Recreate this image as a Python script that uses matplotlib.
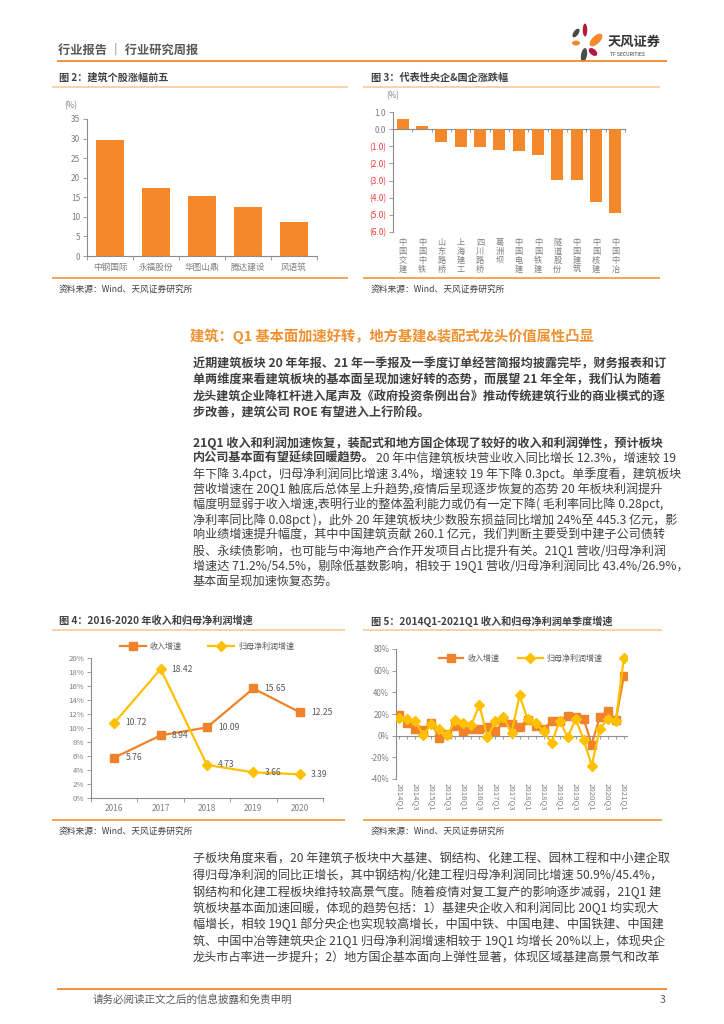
import matplotlib
matplotlib.use('Agg')
import matplotlib.pyplot as plt
from matplotlib.patches import Ellipse
import numpy as np

plt.rcParams['font.family'] = ['Noto Sans CJK SC', 'DejaVu Sans']

W, H = 724, 1024
ORANGE = '#F28A2B'
LIGHT = '#FAC591'
BAR = '#F4882A'
REV = '#F0832A'
PROFIT = '#FFC000'
AXC = '#8C8C8C'
TICK = '#7F7F7F'
BODY = '#3F3F3F'

# ---- data ----
top5_names = ['中钢国际', '永福股份', '华图山鼎', '腾达建设', '风语筑']
top5_vals = [29.7, 17.5, 15.4, 12.6, 8.7]

soe_names = ['中国交建', '中国中铁', '山东路桥', '上海建工', '四川路桥', '葛洲坝',
             '中国电建', '中国铁建', '隧道股份', '中国建筑', '中国核建', '中国中冶']
soe_vals = [0.6, 0.2, -0.74, -1.02, -1.02, -1.23, -1.29, -1.53, -2.94, -2.94, -4.23, -4.9]
soe_ticks = [1, 0, -1, -2, -3, -4, -5, -6]
soe_tick_labels = ['1.0', '0.0', '(1.0)', '(2.0)', '(3.0)', '(4.0)', '(5.0)', '(6.0)']

years = ['2016', '2017', '2018', '2019', '2020']
rev_year = [5.76, 8.94, 10.09, 15.65, 12.25]
np_year = [10.72, 18.42, 4.73, 3.66, 3.39]

quarters = [f'{y}Q{q}' for y in range(2014, 2021) for q in range(1, 5)] + ['2021Q1']
rev_q = [18.8, 11.7, 6.0, 5.0, 11.7, -2.0, 2.0, 8.6, 4.6, 6.0, 6.0, 7.7, 4.6, 12.3, 11.0,
         8.0, 14.8, 9.2, 6.0, 13.2, 13.2, 17.8, 17.0, 15.4, -8.3, 17.2, 22.5, 14.2, 54.8]
np_q = [16.3, 15.4, 13.2, 0.8, 10.8, 6.5, 0.2, 14.8, 11.7, 10.2, 28.3, -1.5, 13.2, 17.2, 2.2,
        37.2, 15.4, 11.7, 4.0, -6.8, 13.8, -1.5, 15.4, -3.7, -27.7, 6.0, 15.4, 13.2, 71.4]

fig = plt.figure(figsize=(7.24, 10.24), dpi=100)
page = fig.add_axes([0, 0, 1, 1])
page.set_xlim(0, W)
page.set_ylim(H, 0)
page.axis('off')


def txt(x, y, s, size=8.7, color=BODY, weight='normal', **kw):
    return page.text(x, y, s, fontsize=size, color=color, fontweight=weight,
                     va='center', ha=kw.pop('ha', 'left'), **kw)


def hline(x0, x1, y, color=ORANGE, lw=1.1):
    page.plot([x0, x1], [y, y], color=color, lw=lw, solid_capstyle='butt')


def box(l, t, r, b):
    ax = fig.add_axes([l / W, 1 - b / H, (r - l) / W, (b - t) / H])
    ax.set_facecolor('none')
    for s in ['top', 'right']:
        ax.spines[s].set_visible(False)
    for s in ['left', 'bottom']:
        ax.spines[s].set_color(AXC)
        ax.spines[s].set_linewidth(0.8)
    ax.tick_params(colors=AXC, labelcolor=TICK, labelsize=6.0, length=3, width=0.6, pad=2)
    return ax


def zero_axis(ax, ticks):
    lo, hi = ax.get_ylim()
    sec = ax.secondary_xaxis((0 - lo) / (hi - lo))
    sec.set_alignment('bottom')
    sec.spines['bottom'].set_color(AXC)
    sec.spines['bottom'].set_linewidth(0.8)
    sec.set_xticks(ticks)
    sec.set_xticklabels([])
    sec.tick_params(direction='out', length=2.5, width=0.6, color=AXC)
    ax.spines['bottom'].set_visible(False)
    return sec


# ---- header ----
txt(58, 50, '行业报告 ｜ 行业研究周报', size=8.8, color='#595959', weight='bold')
hline(57, 667, 61, lw=1.3)
for (cx, cy, w, h, a, c) in [(585, 30, 4.5, 13, 0, '#B3193F'), (576, 33, 5, 10, 35, '#4A4A4A'),
                             (596, 40, 16, 8, -45, ORANGE), (576, 43, 8, 5, 0, ORANGE),
                             (593, 52, 10, 6, 40, '#B3193F'), (584, 55, 6, 14, 10, '#4A4A4A')]:
    page.add_patch(Ellipse((cx, cy), w, h, angle=a, color=c, lw=0))
txt(608, 42, '天风证券', size=9.5, color='#333333', weight='bold')
txt(610, 54, 'TF SECURITIES', size=3.6, color='#333333')

# ---- chart frames ----
txt(59, 78, '图 2：建筑个股涨幅前五', size=7.3, color='#404040', weight='bold')
txt(371, 78, '图 3：代表性央企&国企涨跌幅', size=7.3, color='#404040', weight='bold')
hline(52, 348, 87, color=LIGHT)
hline(363, 660, 87, color=LIGHT)
hline(52, 348, 278)
hline(363, 660, 278)
txt(59, 289, '资料来源：Wind、天风证券研究所', size=6.3, color='#404040')
txt(371, 289, '资料来源：Wind、天风证券研究所', size=6.3, color='#404040')

txt(59, 621, '图 4：2016-2020 年收入和归母净利润增速', size=7.3, color='#404040', weight='bold')
txt(371, 621, '图 5：2014Q1-2021Q1 收入和归母净利润单季度增速', size=7.3, color='#404040', weight='bold')
hline(52, 345, 630, color=LIGHT)
hline(363, 662, 630, color=LIGHT)
hline(52, 345, 820)
hline(363, 662, 820)
txt(59, 831, '资料来源：Wind、天风证券研究所', size=6.3, color='#404040')
txt(371, 831, '资料来源：Wind、天风证券研究所', size=6.3, color='#404040')

# ---- fig 2 ----
ax2 = box(87, 119, 317, 256)
x2 = np.arange(len(top5_names))
ax2.bar(x2, top5_vals, width=0.62, color=BAR)
ax2.set_xlim(-0.5, len(top5_names) - 0.5)
ax2.set_ylim(0, 35)
ax2.set_yticks(range(0, 36, 5))
ax2.set_xticks(x2)
ax2.set_xticklabels(top5_names, fontsize=6.2)
ax2.set_xticks(np.arange(-0.5, len(top5_names), 1), minor=True)
ax2.tick_params(axis='x', which='major', length=0, pad=5)
ax2.tick_params(axis='x', which='minor', length=3, width=0.6, color=AXC)
ax2.text(-0.1, 1.1, '(%)', transform=ax2.transAxes, fontsize=5.8, color=TICK, va='center')

# ---- fig 3 ----
ax3 = box(393, 112, 625, 232)
x3 = np.arange(len(soe_names))
ax3.bar(x3, soe_vals, width=0.62, color=BAR)
ax3.set_xlim(-0.5, len(soe_names) - 0.5)
ax3.set_ylim(-6, 1)
ax3.set_yticks(soe_ticks)
ax3.set_yticklabels(soe_tick_labels)
for t, v in zip(ax3.get_yticklabels(), soe_ticks):
    t.set_color('#EE3B3B' if v < 0 else TICK)
ax3.set_xticks(x3)
ax3.set_xticklabels(['\n'.join(n) for n in soe_names], fontsize=5.9, linespacing=1.0, va='top')
ax3.tick_params(axis='x', length=0, pad=4)
zero_axis(ax3, np.arange(-0.5, len(soe_names), 1))
ax3.text(-0.03, 1.14, '(%)', transform=ax3.transAxes, fontsize=5.8, color=TICK, va='center')

# ---- fig 4 ----
ax4 = box(91, 658, 323, 798)
x4 = np.arange(len(years))
ax4.plot(x4, rev_year, color=REV, lw=1.6, marker='s', ms=5.6, label='收入增速')
ax4.plot(x4, np_year, color=PROFIT, lw=1.6, marker='D', ms=5.0, label='归母净利润增速')
for vals in [rev_year, np_year]:
    for xi, v in zip(x4, vals):
        ax4.annotate(f'{v:.2f}', (xi, v), xytext=(8, 0), textcoords='offset points',
                     fontsize=6.2, color='#595959', va='center', ha='left')
ax4.set_xlim(-0.5, len(years) - 0.5)
ax4.set_ylim(0, 20)
yt4 = list(range(0, 21, 2))
ax4.set_yticks(yt4)
ax4.set_yticklabels([f'{v}%' for v in yt4], fontsize=5.6)
ax4.set_xticks(x4)
ax4.set_xticklabels(years, fontsize=6.0)
ax4.set_xticks(np.arange(-0.5, len(years), 1), minor=True)
ax4.tick_params(axis='x', which='major', length=0, pad=4)
ax4.tick_params(axis='x', which='minor', length=3, width=0.6, color=AXC)
ax4.legend(loc='center', bbox_to_anchor=(0.5, 1.08), ncol=2, frameon=False, fontsize=5.8,
           handlelength=3.2, columnspacing=3.3, handletextpad=0.5, labelcolor='#595959')

# ---- fig 5 ----
ax5 = box(396, 649, 627, 779)
x5 = np.arange(len(quarters))
ax5.plot(x5, rev_q, color=REV, lw=1.6, marker='s', ms=5.2, label='收入增速', zorder=3)
ax5.plot(x5, np_q, color=PROFIT, lw=1.6, marker='D', ms=4.7, label='归母净利润增速', zorder=4)
ax5.set_xlim(-0.4, len(quarters) - 0.6)
ax5.set_ylim(-40, 80)
yt5 = list(range(-40, 81, 20))
ax5.set_yticks(yt5)
ax5.set_yticklabels([f'{v}%' for v in yt5], fontsize=5.7)
ax5.set_xticks(x5[::2])
ax5.set_xticklabels(quarters[::2], rotation=270, fontsize=5.6, va='top', ha='center')
ax5.tick_params(axis='x', length=0, pad=3)
zero_axis(ax5, x5)
ax5.legend(loc='center', bbox_to_anchor=(0.54, 0.93), ncol=2, frameon=False, fontsize=5.8,
           handlelength=3.0, columnspacing=2.4, handletextpad=0.5, labelcolor='#595959')

# ---- body text ----
txt(190, 336, '建筑：Q1 基本面加速好转，地方基建&装配式龙头价值属性凸显', size=10.3,
    color='#F0902F', weight='bold')

para1 = ['近期建筑板块 20 年年报、21 年一季报及一季度订单经营简报均披露完毕，财务报表和订',
         '单两维度来看建筑板块的基本面呈现加速好转的态势，而展望 21 年全年，我们认为随着',
         '龙头建筑企业降杠杆进入尾声及《政府投资条例出台》推动传统建筑行业的商业模式的逐',
         '步改善，建筑公司 ROE 有望进入上行阶段。']
for i, s in enumerate(para1):
    txt(193, 364 + 16.3 * i, s, weight='bold')

para2_bold = ['21Q1 收入和利润加速恢复，装配式和地方国企体现了较好的收入和利润弹性，预计板块',
              '内公司基本面有望延续回暖趋势。']
para2 = ['20 年中信建筑板块营业收入同比增长 12.3%，增速较 19',
         '年下降 3.4pct，归母净利润同比增速 3.4%，增速较 19 年下降 0.3pct。单季度看，建筑板块',
         '营收增速在 20Q1 触底后总体呈上升趋势,疫情后呈现逐步恢复的态势 20 年板块利润提升',
         '幅度明显弱于收入增速,表明行业的整体盈利能力或仍有一定下降( 毛利率同比降 0.28pct,',
         '净利率同比降 0.08pct )，此外 20 年建筑板块少数股东损益同比增加 24%至 445.3 亿元，影',
         '响业绩增速提升幅度，其中中国建筑贡献 260.1 亿元，我们判断主要受到中建子公司债转',
         '股、永续债影响，也可能与中海地产合作开发项目占比提升有关。21Q1 营收/归母净利润',
         '增速达 71.2%/54.5%，剔除低基数影响，相较于 19Q1 营收/归母净利润同比 43.4%/26.9%，',
         '基本面呈现加速恢复态势。']
y0, dy = 443, 15.4
txt(193, y0, para2_bold[0], weight='bold')
tb = txt(193, y0 + dy, para2_bold[1], weight='bold')
r = fig.canvas.get_renderer()
wb = tb.get_window_extent(r).width
txt(193 + wb + 1, y0 + dy, para2[0])
for i, s in enumerate(para2[1:]):
    txt(193, y0 + dy * (i + 2), s)

para3 = ['子板块角度来看，20 年建筑子板块中大基建、钢结构、化建工程、园林工程和中小建企取',
         '得归母净利润的同比正增长，其中钢结构/化建工程归母净利润同比增速 50.9%/45.4%，',
         '钢结构和化建工程板块维持较高景气度。随着疫情对复工复产的影响逐步减弱，21Q1 建',
         '筑板块基本面加速回暖，体现的趋势包括：1）基建央企收入和利润同比 20Q1 均实现大',
         '幅增长，相较 19Q1 部分央企也实现较高增长，中国中铁、中国电建、中国铁建、中国建',
         '筑、中国中冶等建筑央企 21Q1 归母净利润增速相较于 19Q1 均增长 20%以上，体现央企',
         '龙头市占率进一步提升；2）地方国企基本面向上弹性显著，体现区域基建高景气和改革']
for i, s in enumerate(para3):
    txt(193, 859 + 16.4 * i, s)

# ---- footer ----
hline(57, 667, 989, lw=1.3)
txt(93, 1000, '请务必阅读正文之后的信息披露和免责申明', size=7.6, color='#595959')
txt(660, 1000, '3', size=7.6, color='#595959')

fig.savefig('out.png', dpi=100)
